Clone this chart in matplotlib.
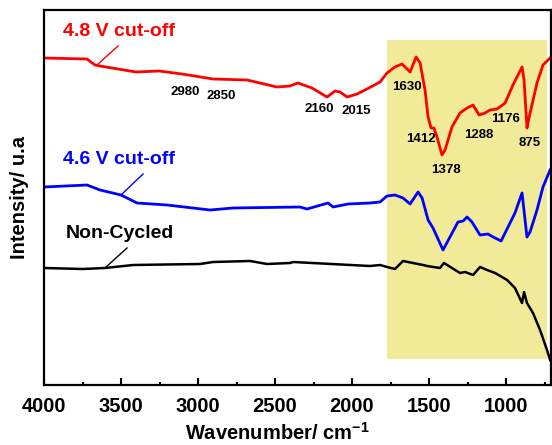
import matplotlib
matplotlib.use('Agg')
import matplotlib.pyplot as plt
from matplotlib.patches import Rectangle
from matplotlib.ticker import MultipleLocator

# wavenumbers (cm-1) and intensities (a.u., offset per curve)
red_wn = [4000, 3721, 3669, 3636, 3403, 3253, 3104, 2903, 2682, 2487, 2403, 2351, 2260,
          2162, 2110, 2078, 2032, 1967, 1903, 1818, 1773, 1721, 1675, 1623, 1584, 1558,
          1526, 1506, 1487, 1468, 1448, 1416, 1396, 1351, 1299, 1253, 1214, 1175, 1136,
          1104, 1058, 1006, 955, 896, 883, 864, 851, 799, 760, 714]
red_int = [327, 326, 320, 319, 313, 314, 311, 306, 305, 298, 299, 302, 297,
           288, 294, 293, 288, 291, 296, 303, 312, 318, 321, 313, 328, 322,
           295, 268, 257, 257, 248, 230, 235, 258, 272, 277, 280, 270, 272,
           275, 276, 282, 300, 318, 305, 257, 267, 302, 320, 327]

blue_wn = [4000, 3721, 3636, 3500, 3396, 3201, 2922, 2773, 2338, 2292, 2156, 2123, 2026,
           1883, 1818, 1773, 1721, 1669, 1623, 1571, 1545, 1506, 1474, 1409, 1364, 1312,
           1279, 1253, 1221, 1169, 1117, 1084, 1032, 987, 942, 896, 864, 844, 799, 760,
           714]
blue_int = [198, 200, 195, 190, 182, 180, 175, 177, 178, 176, 182, 178, 181,
            182, 183, 189, 190, 187, 181, 193, 187, 165, 157, 135, 148, 163,
            164, 168, 163, 150, 151, 148, 144, 158, 172, 192, 148, 153, 175, 198,
            215]

black_wn = [4000, 3747, 3604, 3422, 2987, 2903, 2662, 2552, 2403, 2383, 1883, 1818, 1773,
            1721, 1669, 1604, 1539, 1513, 1429, 1403, 1351, 1299, 1266, 1214, 1169, 1123,
            1071, 993, 942, 896, 883, 864, 825, 779, 734, 714]
black_int = [117, 116, 117, 120, 121, 123, 124, 121, 122, 123, 119, 120, 118,
             116, 124, 122, 120, 119, 117, 122, 117, 112, 113, 110, 118, 115,
             112, 105, 97, 82, 93, 82, 72, 55, 35, 25]

peak_labels = ['2980', '2850', '2160', '2015', '1630', '1412', '1378', '1288', '1176', '875']
peak_x = [3084, 2851, 2214, 1971, 1643, 1555, 1390, 1175, 1006, 844]
peak_y = [293, 289, 276, 274, 298, 246, 215, 250, 266, 242]

plt.rcParams['font.family'] = ['Liberation Sans', 'DejaVu Sans']
plt.rcParams['font.weight'] = 'bold'
plt.rcParams['mathtext.fontset'] = 'custom'
plt.rcParams['mathtext.rm'] = 'Liberation Sans:bold'
plt.rcParams['mathtext.bf'] = 'Liberation Sans:bold'
plt.rcParams['mathtext.default'] = 'bf'

fig = plt.figure(figsize=(5.52, 4.45), dpi=100)
ax = fig.add_axes([44 / 552, 60 / 445, 507 / 552, 375 / 445])

ax.add_patch(Rectangle((1773, 26), 734 - 1773, 345 - 26, facecolor='#f1ea99',
                       edgecolor='none', zorder=0))

ax.plot(red_wn, red_int, color='#ff0000', lw=2.0)
ax.plot(blue_wn, blue_int, color='#0000ff', lw=2.0)
ax.plot(black_wn, black_int, color='black', lw=1.8)

ax.text(3877, 353, '4.8 V cut-off', color='#ff0000', fontsize=14, fontweight='bold', va='center')
ax.text(3877, 225, '4.6 V cut-off', color='#0000ff', fontsize=14, fontweight='bold', va='center')
ax.text(3857, 152, 'Non-Cycled', color='black', fontsize=14, fontweight='bold', va='center')
ax.plot([3519, 3649], [339, 321], color='#ff0000', lw=1)
ax.plot([3357, 3500], [211, 190], color='#0000ff', lw=1)
ax.plot([3461, 3604], [137, 117], color='black', lw=1)

for lab, x, y in zip(peak_labels, peak_x, peak_y):
    ax.text(x, y, lab, fontsize=9.5, fontweight='bold', ha='center', va='center')

ax.set_xlim(4000, 708)
ax.set_ylim(0, 375)
ax.set_yticks([])
ax.xaxis.set_major_locator(MultipleLocator(500))
ax.xaxis.set_minor_locator(MultipleLocator(250))
ax.tick_params(axis='x', which='major', direction='in', length=5, width=1.5,
               labelsize=14.5, pad=9, top=False)
ax.tick_params(axis='x', which='minor', direction='in', length=2.5, width=1.5, top=False)
for lab in ax.get_xticklabels():
    lab.set_fontweight('bold')
for sp in ax.spines.values():
    sp.set_linewidth(1.6)

ax.set_xlabel('Wavenumber/ cm$^{-1}$', fontsize=14.5, fontweight='bold', va='center')
ax.xaxis.set_label_coords((277 - 44) / 507, (385 - 433) / 375)
ax.set_ylabel('Intensity/ u.a', fontsize=14.5, fontweight='bold', va='center')
ax.yaxis.set_label_coords((20 - 44) / 507, 0.5)

plt.savefig('out.png', dpi=100)
